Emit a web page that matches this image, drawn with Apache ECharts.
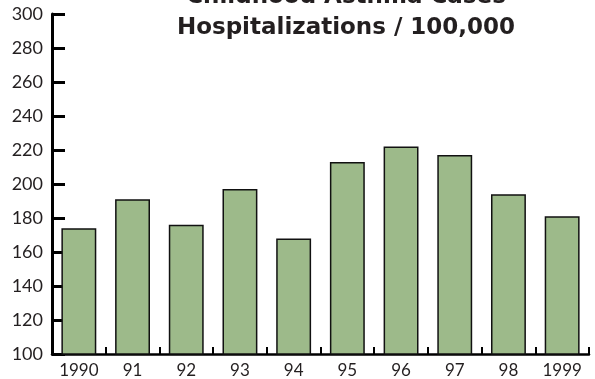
<!DOCTYPE html>
<html>
<head>
<meta charset="utf-8">
<script src="https://cdn.jsdelivr.net/npm/echarts@6/dist/echarts.min.js"></script>
<style>
  html, body { margin: 0; padding: 0; background: #fff; }
  #chart { width: 595px; height: 379px; }
</style>
</head>
<body>
<div id="chart"></div>
<script>
// Yearly hospitalization rates
const years = ['1990', '91', '92', '93', '94', '95', '96', '97', '98', '1999'];
const rates = [174, 191, 176, 197, 168, 213, 222, 217, 194, 181];
const titleLines = ['Childhood Asthma Cases', 'Hospitalizations / 100,000'];

const chart = echarts.init(document.getElementById('chart'), null, { renderer: 'canvas' });

const titleFont = 'bold 23px "DejaVu Sans"';

chart.setOption({
  animation: false,
  backgroundColor: '#ffffff',
  grid: { left: 52, right: 6, top: 14, bottom: 25, containLabel: false },
  graphic: [
    {
      type: 'text', x: 346, y: -3, z: 10,
      style: {
        text: titleLines[0], textAlign: 'center', textVerticalAlign: 'middle',
        font: titleFont, fill: '#231f20'
      }
    },
    {
      type: 'text', x: 346, y: 28, z: 10,
      style: {
        text: titleLines[1], textAlign: 'center', textVerticalAlign: 'middle',
        font: titleFont, fill: '#231f20'
      }
    }
  ],
  xAxis: {
    type: 'category',
    data: years,
    boundaryGap: true,
    axisLine: { show: true, lineStyle: { color: '#000', width: 2.5 } },
    axisTick: { show: true, inside: true, length: 7, lineStyle: { color: '#000', width: 2 } },
    axisLabel: {
      color: '#231f20', fontFamily: 'Lato', fontSize: 17, margin: 8
    },
    splitLine: { show: false }
  },
  yAxis: {
    type: 'value',
    min: 100, max: 300, interval: 20,
    axisLine: { show: true, lineStyle: { color: '#000', width: 3 } },
    axisTick: { show: true, inside: true, length: 13, lineStyle: { color: '#000', width: 3 } },
    axisLabel: {
      color: '#231f20', fontFamily: 'Lato', fontSize: 18, margin: 9
    },
    splitLine: { show: false }
  },
  series: [{
    type: 'bar',
    data: rates,
    barCategoryGap: '35%',
    itemStyle: { color: '#9dba8a', borderColor: '#111', borderWidth: 1.5 }
  }]
});
</script>
</body>
</html>
